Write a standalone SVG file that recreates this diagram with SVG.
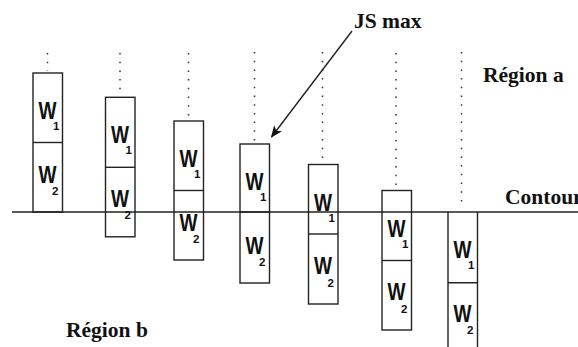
<svg xmlns="http://www.w3.org/2000/svg" width="578" height="347" viewBox="0 0 578 347">
<style>
.bg{fill:#fff}
.box{fill:none;stroke:#222;stroke-width:1.4}
.dots{fill:none;stroke:#333;stroke-width:1.5;stroke-dasharray:1.5 7.2}
.line{fill:none;stroke:#222;stroke-width:1.4}
.lbl{font-family:"Liberation Serif","Times New Roman",serif;font-weight:bold;font-size:21.5px;fill:#111}
.w{font-family:"Liberation Sans",Arial,sans-serif;font-weight:bold;font-size:23px;fill:#111}
.sub{font-family:"Liberation Sans",Arial,sans-serif;font-weight:bold;font-size:11.5px;fill:#111}
</style>
<defs>
<marker id="ah" viewBox="0 0 12 10" refX="11" refY="5" markerWidth="12" markerHeight="10" markerUnits="userSpaceOnUse" orient="auto">
<path d="M0,0 L12,5 L0,10 L3,5 Z" fill="#111"/>
</marker>
</defs>
<rect class="bg" x="0" y="0" width="578" height="347"/>
<g id="guides">
<path class="dots" d="M47.5,53V71"/>
<path class="dots" d="M120,53V95"/>
<path class="dots" d="M188.5,53V119"/>
<path class="dots" d="M254.5,52V142"/>
<path class="dots" d="M322.5,52V162"/>
<path class="dots" d="M396,53V188"/>
<path class="dots" d="M461.5,52V203"/>
</g>
<g id="contour">
<path class="line" d="M12,212H578"/>
</g>
<g id="box1">
<rect class="box" x="33" y="73" width="29.5" height="139"/>
<path class="box" d="M33,142.5H62.5"/>
<text class="w" x="38.5" y="119" textLength="18" lengthAdjust="spacingAndGlyphs">W</text><text class="sub" x="53" y="130">1</text>
<text class="w" x="38.5" y="182.5" textLength="18" lengthAdjust="spacingAndGlyphs">W</text><text class="sub" x="52" y="195">2</text>
</g>
<g id="box2">
<rect class="box" x="105.5" y="97.3" width="29.5" height="139.5"/>
<path class="box" d="M105.5,167.3H135"/>
<text class="w" x="111" y="143.3" textLength="18" lengthAdjust="spacingAndGlyphs">W</text><text class="sub" x="125.5" y="154.3">1</text>
<text class="w" x="111" y="206.8" textLength="18" lengthAdjust="spacingAndGlyphs">W</text><text class="sub" x="124.5" y="219.3">2</text>
</g>
<g id="box3">
<rect class="box" x="174" y="121" width="29.5" height="139"/>
<path class="box" d="M174,190.5H203.5"/>
<text class="w" x="179.5" y="167" textLength="18" lengthAdjust="spacingAndGlyphs">W</text><text class="sub" x="194" y="178">1</text>
<text class="w" x="179.5" y="230.5" textLength="18" lengthAdjust="spacingAndGlyphs">W</text><text class="sub" x="193" y="243">2</text>
</g>
<g id="box4">
<rect class="box" x="240" y="144" width="29.5" height="139"/>
<path class="box" d="M240,212H269.5"/>
<text class="w" x="245.5" y="190" textLength="18" lengthAdjust="spacingAndGlyphs">W</text><text class="sub" x="260" y="201">1</text>
<text class="w" x="245.5" y="253.5" textLength="18" lengthAdjust="spacingAndGlyphs">W</text><text class="sub" x="259" y="266">2</text>
</g>
<g id="box5">
<rect class="box" x="308.5" y="164.5" width="29.5" height="139.5"/>
<path class="box" d="M308.5,234H338"/>
<text class="w" x="314" y="210.5" textLength="18" lengthAdjust="spacingAndGlyphs">W</text><text class="sub" x="328.5" y="221.5">1</text>
<text class="w" x="314" y="274" textLength="18" lengthAdjust="spacingAndGlyphs">W</text><text class="sub" x="327.5" y="286.5">2</text>
</g>
<g id="box6">
<rect class="box" x="382" y="190.5" width="29.5" height="139.5"/>
<path class="box" d="M382,260.5H411.5"/>
<text class="w" x="387.5" y="236.5" textLength="18" lengthAdjust="spacingAndGlyphs">W</text><text class="sub" x="402" y="247.5">1</text>
<text class="w" x="387.5" y="300" textLength="18" lengthAdjust="spacingAndGlyphs">W</text><text class="sub" x="401" y="312.5">2</text>
</g>
<g id="box7">
<path class="box" d="M448,212V347M477.5,212V347M448,282.7H477.5"/>
<text class="w" x="453.5" y="258" textLength="18" lengthAdjust="spacingAndGlyphs">W</text><text class="sub" x="468" y="269">1</text>
<text class="w" x="453.5" y="321.5" textLength="18" lengthAdjust="spacingAndGlyphs">W</text><text class="sub" x="467" y="334">2</text>
</g>
<g id="connectors">
<path class="line" d="M352,31L271.5,137" marker-end="url(#ah)"/>
</g>
<g id="labels">
<text class="lbl" x="354" y="28">JS max</text>
<text class="lbl" x="483" y="82">Région a</text>
<text class="lbl" x="505" y="204">Contour</text>
<text class="lbl" x="66" y="337">Région b</text>
</g>
</svg>
